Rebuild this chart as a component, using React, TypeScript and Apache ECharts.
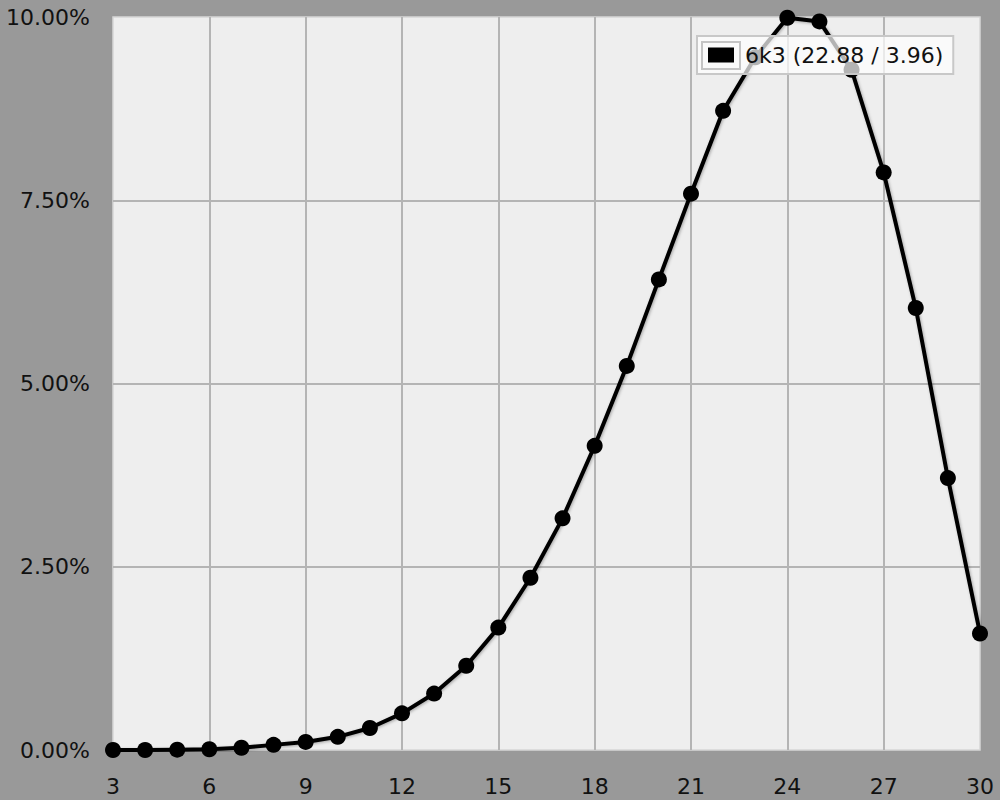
import React, { useEffect, useRef } from "react";
import * as echarts from "echarts";

const seriesName = "6k3 (22.88 / 3.96)";
const totals = [3, 4, 5, 6, 7, 8, 9, 10, 11, 12, 13, 14, 15, 16, 17, 18, 19, 20, 21, 22, 23, 24, 25, 26, 27, 28, 29, 30];
const percents = [0, 0, 0.005, 0.01, 0.03, 0.07, 0.11, 0.18, 0.3, 0.5, 0.77, 1.15, 1.67, 2.35, 3.16, 4.15, 5.24, 6.42, 7.59, 8.72, 9.45, 9.99, 9.94, 9.28, 7.88, 6.03, 3.71, 1.59];

const FONT = "DejaVu Sans";

export default function App() {
  const ref = useRef<HTMLDivElement>(null);
  useEffect(() => {
    if (!ref.current) return;
    const chart = echarts.init(ref.current, undefined, { renderer: "svg" });
    const data = totals.map((t, i) => [t, percents[i]]);
    chart.setOption({
      animation: false,
      backgroundColor: "#999999",
      grid: {
        left: 113,
        right: 20,
        top: 17,
        bottom: 50,
        show: true,
        backgroundColor: "#eeeeee",
        borderColor: "#d6d6d6",
        borderWidth: 1.5,
      },
      legend: {
        left: 697,
        top: 36,
        orient: "horizontal",
        padding: [8, 10, 8, 11],
        backgroundColor: "rgba(255,255,255,0.7)",
        borderColor: "#c8c8c8",
        borderWidth: 2,
        borderRadius: 0,
        itemWidth: 26,
        itemHeight: 15,
        icon: "rect",
        textStyle: {
          fontFamily: FONT,
          fontSize: 22,
          color: "#111",
          padding: [0, 0, 0, 6],
        },
        data: [{ name: seriesName, icon: "rect", itemStyle: { color: "#000", borderWidth: 0 } }],
      },
      xAxis: {
        type: "value",
        min: 3,
        max: 30,
        interval: 3,
        axisLine: { show: false },
        axisTick: { show: false },
        axisLabel: { fontFamily: FONT, fontSize: 22, color: "#111", margin: 25 },
        splitLine: { show: true, showMinLine: false, showMaxLine: false, lineStyle: { color: "#b4b4b4", width: 2 } },
      },
      yAxis: {
        type: "value",
        min: 0,
        max: 10,
        interval: 2.5,
        axisLine: { show: false },
        axisTick: { show: false },
        axisLabel: {
          fontFamily: FONT,
          fontSize: 22,
          color: "#111",
          margin: 23,
          formatter: (v: number) => v.toFixed(2) + "%",
        },
        splitLine: { show: true, showMinLine: false, showMaxLine: false, lineStyle: { color: "#b4b4b4", width: 2 } },
      },
      graphic: [
        {
          type: "rect",
          z: 100,
          silent: true,
          shape: { x: 702, y: 42, width: 38, height: 27 },
          style: { fill: "none", stroke: "#c4c4c4", lineWidth: 2 },
        },
      ],
      series: [
        {
          name: seriesName,
          type: "line",
          data,
          color: "#000",
          symbol: "circle",
          symbolSize: 16,
          showSymbol: true,
          lineStyle: {
            color: "#000",
            width: 4,
            shadowColor: "rgba(0,0,0,0.3)",
            shadowBlur: 3,
            shadowOffsetX: 1,
            shadowOffsetY: 1,
          },
          itemStyle: { color: "#000" },
          z: 2,
        },
      ],
    });
    return () => chart.dispose();
  }, []);
  return (
    <div
      ref={ref}
      style={{ position: "fixed", left: 0, top: 0, width: 1000, height: 800 }}
    />
  );
}
